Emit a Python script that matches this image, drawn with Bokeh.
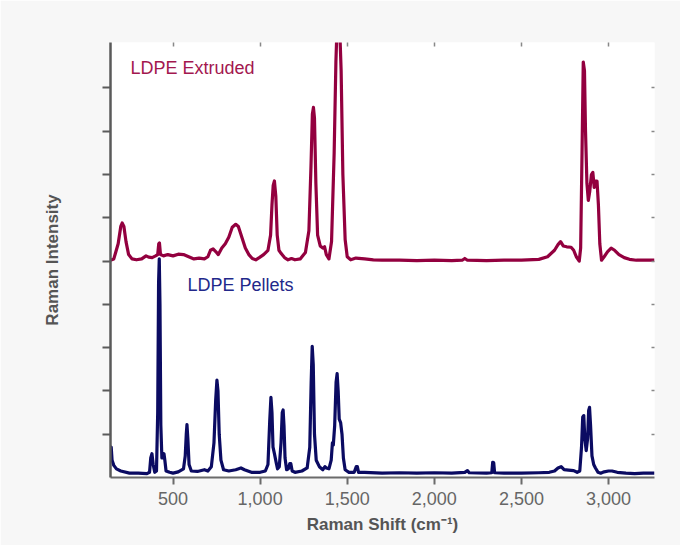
from bokeh.plotting import figure
from bokeh.models import Range1d, FixedTicker, LinearAxis, Label, NumeralTickFormatter, CustomJSTickFormatter
from bokeh.embed import file_html
from bokeh.resources import INLINE

# Raman shift (cm-1) and intensity
extruded_x = [140, 160, 185, 200, 208, 218, 230, 245, 265, 290, 320, 345, 360, 380, 400, 412, 418, 422, 428, 445,
              470, 500, 530, 560, 590, 620, 650, 680, 700, 715, 730, 745, 760, 780, 800, 820, 840, 860, 875, 895,
              915, 935, 955, 975, 995, 1020, 1045, 1060, 1068, 1075, 1082, 1090, 1098, 1108, 1120, 1140, 1160, 1180,
              1200, 1230, 1260, 1280, 1292, 1300, 1306, 1312, 1320, 1330, 1345, 1360, 1370, 1380, 1395, 1410, 1425,
              1435, 1443, 1455, 1465, 1475, 1488, 1500, 1520, 1550, 1600, 1650, 1700, 1800, 1900, 2000, 2100, 2160,
              2175, 2190, 2300, 2400, 2500, 2600, 2650, 2690, 2710, 2725, 2740, 2760, 2785, 2800, 2815, 2832, 2840,
              2848, 2855, 2862, 2868, 2876, 2884, 2892, 2902, 2910, 2918, 2926, 2934, 2942, 2950, 2960, 2975, 2995,
              3015, 3035, 3060, 3090, 3120, 3160, 3200, 3264]
extruded_y = [5.02, 5.05, 5.40, 5.80, 5.88, 5.80, 5.45, 5.15, 5.05, 5.03, 5.05, 5.12, 5.09, 5.08, 5.12, 5.15, 5.40, 5.42, 5.15, 5.12,
              5.15, 5.12, 5.16, 5.15, 5.10, 5.05, 5.07, 5.05, 5.10, 5.25, 5.28, 5.22, 5.15, 5.30, 5.40, 5.55, 5.78, 5.85, 5.80, 5.55,
              5.30, 5.15, 5.06, 5.03, 5.08, 5.15, 5.25, 5.60, 6.30, 6.75, 6.85, 6.50, 5.60, 5.25, 5.18, 5.08, 5.03, 5.06,
              5.03, 5.05, 5.20, 5.70, 7.20, 8.40, 8.55, 8.30, 6.80, 5.60, 5.35, 5.30, 5.33, 5.15, 5.05, 5.45, 7.50,
              9.60, 10.6, 10.6, 9.40, 7.00, 5.50, 5.10, 5.03, 5.07, 5.05, 5.03, 5.02, 5.02, 5.01, 5.02, 5.01, 5.02,
              5.06, 5.02, 5.01, 5.02, 5.02, 5.04, 5.10, 5.25, 5.38, 5.45, 5.35, 5.33, 5.32, 5.25, 5.10, 5.00, 5.30,
              7.50, 9.60, 9.40, 8.00, 6.80, 6.40, 6.60, 7.00, 7.05, 6.70, 6.85, 6.85, 6.30, 5.40, 5.02, 5.10, 5.22,
              5.30, 5.25, 5.15, 5.08, 5.04, 5.02, 5.02, 5.02]

pellets_x = [140, 145, 150, 160, 175, 200, 250, 300, 350, 365, 372, 379, 386, 395, 405, 412, 417, 421, 425, 430,
             436, 442, 448, 453, 460, 480, 500, 530, 560, 570, 576, 580, 585, 592, 605, 640, 680, 700, 720, 735,
             745, 752, 758, 765, 775, 790, 820, 860, 890, 910, 950, 1000, 1030, 1045, 1055, 1062, 1068, 1074, 1082,
             1092, 1100, 1110, 1120, 1127, 1132, 1137, 1143, 1152, 1162, 1170, 1176, 1184, 1200, 1240, 1270, 1285,
             1293, 1299, 1305, 1312, 1322, 1340, 1360, 1372, 1380, 1395, 1408, 1415, 1420, 1428, 1436, 1442, 1448,
             1454, 1462, 1470, 1478, 1488, 1510, 1540, 1552, 1558, 1565, 1600, 1700, 1800, 1900, 2000, 2100, 2175,
             2190, 2200, 2300, 2330, 2335, 2341, 2346, 2400, 2500, 2600, 2660, 2690, 2710, 2728, 2745, 2770, 2800,
             2820, 2835, 2845, 2852, 2858, 2864, 2872, 2880, 2886, 2891, 2897, 2905, 2915, 2925, 2940, 2955, 2975,
             3000, 3020, 3050, 3100, 3150, 3200, 3264]
pellets_y = [0.35, 0.70, 0.40, 0.28, 0.20, 0.15, 0.10, 0.10, 0.09, 0.12, 0.45, 0.55, 0.30, 0.12, 0.15, 1.50, 4.50, 5.05, 4.00, 1.20,
             0.45, 0.45, 0.55, 0.40, 0.15, 0.12, 0.10, 0.13, 0.20, 0.50, 1.00, 1.22, 0.90, 0.30, 0.15, 0.14, 0.18, 0.15, 0.25, 0.80,
             1.80, 2.25, 2.00, 1.00, 0.40, 0.18, 0.15, 0.18, 0.22, 0.18, 0.12, 0.12, 0.15, 0.30, 1.30, 1.85, 1.50, 0.70, 0.55,
             0.35, 0.20, 0.25, 0.80, 1.50, 1.56, 1.20, 0.45, 0.18, 0.20, 0.32, 0.32, 0.15, 0.12, 0.15, 0.22, 0.70,
             2.20, 3.03, 2.60, 1.00, 0.40, 0.25, 0.18, 0.25, 0.22, 0.20, 0.40, 0.80, 0.75, 1.20, 2.20, 2.40, 2.00,
             1.35, 1.27, 1.00, 0.45, 0.18, 0.12, 0.12, 0.25, 0.25, 0.12, 0.12, 0.10, 0.11, 0.10, 0.11, 0.10, 0.12,
             0.16, 0.11, 0.10, 0.11, 0.35, 0.34, 0.11, 0.10, 0.10, 0.11, 0.12, 0.15, 0.22, 0.25, 0.18, 0.17, 0.16,
             0.12, 0.15, 0.70, 1.40, 1.43, 0.90, 0.62, 0.90, 1.55, 1.62, 1.20, 0.50, 0.30, 0.22, 0.12, 0.10, 0.13,
             0.15, 0.15, 0.12, 0.10, 0.09, 0.10, 0.10]

x_ticks = [500, 1000, 1500, 2000, 2500, 3000]
y_ticks = [1, 2, 3, 4, 5, 6, 7, 8, 9]

series_names = ["LDPE Extruded", "LDPE Pellets"]
line_colors = ["#93003f", "#0b0b62"]
label_colors = ["#a3184f", "#22288a"]

FONT = "Liberation Sans"
no_labels = CustomJSTickFormatter(code="return ''")

p = figure(width=680, height=545, output_backend="svg", toolbar_location=None,
           x_range=Range1d(141, 3264), y_range=Range1d(0, 10.05),
           min_border_left=110, min_border_right=26, min_border_top=42, min_border_bottom=68)
p.border_fill_color = "#f7f7f7"
p.background_fill_color = "white"
p.outline_line_color = None
p.grid.visible = False

p.line(extruded_x, extruded_y, line_color=line_colors[0], line_width=3.2, line_join="round")
p.line(pellets_x, pellets_y, line_color=line_colors[1], line_width=3.2, line_join="round")

# bottom axis
xa = p.xaxis[0]
xa.ticker = FixedTicker(ticks=x_ticks)
xa.formatter = NumeralTickFormatter(format="0,0")
xa.axis_line_color = "#6b6b6b"
xa.axis_line_width = 2
xa.major_tick_line_color = "#6b6b6b"
xa.major_tick_line_width = 2
xa.major_tick_out = 7
xa.major_tick_in = 0
xa.minor_tick_line_color = None
xa.major_label_text_font = FONT
xa.major_label_text_font_size = "18px"
xa.major_label_text_color = "#666666"
xa.major_label_standoff = 7
xa.axis_label = "Raman Shift (cm\u207b\u00b9)"
xa.axis_label_text_font = FONT
xa.axis_label_text_font_style = "bold"
xa.axis_label_text_font_size = "17px"
xa.axis_label_text_color = "#555555"
xa.axis_label_standoff = 7

# left axis
ya = p.yaxis[0]
ya.ticker = FixedTicker(ticks=y_ticks)
ya.formatter = no_labels
ya.axis_line_color = "#5a5a5a"
ya.axis_line_width = 2.5
ya.major_tick_line_color = "#5a5a5a"
ya.major_tick_line_width = 2
ya.major_tick_out = 8
ya.major_tick_in = 0
ya.minor_tick_line_color = None
ya.major_label_standoff = 0
ya.axis_label = "Raman Intensity"
ya.axis_label_text_font = FONT
ya.axis_label_text_font_style = "bold"
ya.axis_label_text_font_size = "17px"
ya.axis_label_text_color = "#555555"
ya.axis_label_standoff = 41

# top and right inner ticks
top = LinearAxis(ticker=FixedTicker(ticks=x_ticks), formatter=no_labels, axis_line_color=None,
                 major_tick_line_color="#888888", major_tick_line_width=1.5,
                 major_tick_in=4, major_tick_out=0, minor_tick_line_color=None,
                 major_label_standoff=0)
p.add_layout(top, "above")
right = LinearAxis(ticker=FixedTicker(ticks=y_ticks), formatter=no_labels, axis_line_color=None,
                   major_tick_line_color="#888888", major_tick_line_width=1.5,
                   major_tick_in=3, major_tick_out=0, minor_tick_line_color=None,
                   major_label_standoff=0)
p.add_layout(right, "right")

p.add_layout(Label(x=256, y=9.46, text=series_names[0], text_font=FONT, text_font_size="18px",
                   text_color=label_colors[0], text_baseline="middle"))
p.add_layout(Label(x=583, y=4.45, text=series_names[1], text_font=FONT, text_font_size="18px",
                   text_color=label_colors[1], text_baseline="middle"))

open("out.html", "w").write(file_html(p, INLINE))
